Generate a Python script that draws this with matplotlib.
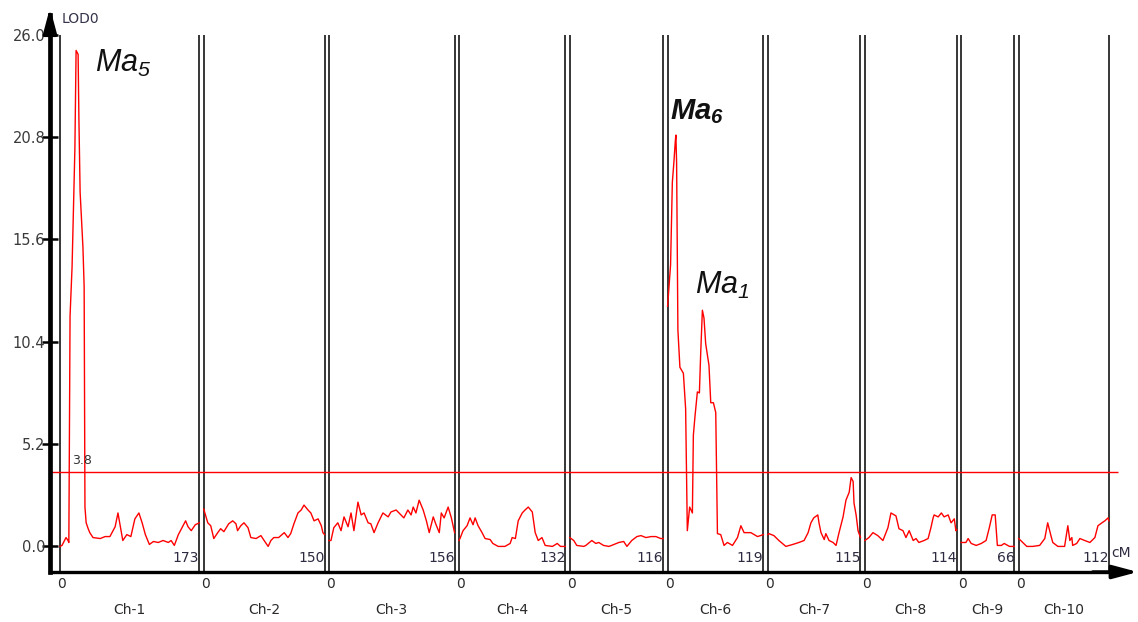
import matplotlib.pyplot as plt
import numpy as np

plt.rcParams['font.family'] = ['DejaVu Sans']
plt.rcParams['mathtext.fontset'] = 'custom'
plt.rcParams['mathtext.rm'] = 'Liberation Sans:italic'
plt.rcParams['mathtext.it'] = 'Liberation Sans:italic'
plt.rcParams['mathtext.bf'] = 'Liberation Sans:italic:bold'
plt.rcParams['mathtext.bfit'] = 'Liberation Sans:italic:bold'

chroms = ["Ch-1", "Ch-2", "Ch-3", "Ch-4", "Ch-5", "Ch-6", "Ch-7", "Ch-8", "Ch-9", "Ch-10"]
lengths = [173, 150, 156, 132, 116, 119, 115, 114, 66, 112]   # cM
threshold = 3.8
yticks = [0.0, 5.2, 10.4, 15.6, 20.8, 26.0]

# LOD profile along each chromosome: position (cM), LOD
pos1 = [0, 2.5, 7.5, 10, 11, 12.5, 15, 16, 18.5, 20, 22.5, 23.5, 25, 28.5, 30, 31, 32.5,
        35, 37, 41, 50, 56, 62, 68.5, 72, 75, 78, 83, 88, 93, 98, 102, 106, 111, 116,
        122, 128, 134.5, 138, 142, 147, 156, 159, 163, 168, 173]
lod1 = [0.0, 0.05, 0.45, 0.3, 0.2, 11.7, 14.2, 15.9, 20.2, 25.2, 25.0, 21.7, 18.0, 15.2, 13.2, 2.0, 1.2,
        0.9, 0.7, 0.45, 0.4, 0.5, 0.5, 1.0, 1.7, 1.0, 0.3, 0.6, 0.5, 1.4, 1.7, 1.2, 0.6, 0.1, 0.25,
        0.2, 0.3, 0.2, 0.3, 0.05, 0.6, 1.3, 1.0, 0.8, 1.1, 1.2]

pos2 = [0, 5, 8.7, 12.5, 17.4, 21, 25, 31, 36, 40, 42, 46, 50, 55, 58.5, 65, 71, 75, 80,
        83.4, 87, 93, 100, 104.6, 108, 112, 117, 121, 124.5, 129.5, 133, 137, 142, 146, 148, 150]
lod2 = [1.9, 1.2, 1.05, 0.4, 0.7, 0.9, 0.75, 1.15, 1.3, 1.15, 0.8, 1.05, 1.2, 0.95, 0.45, 0.4, 0.55, 0.3, 0.0,
        0.3, 0.45, 0.45, 0.7, 0.45, 0.65, 1.15, 1.7, 1.85, 2.1, 1.85, 1.7, 1.3, 1.4, 1.05, 0.7, 0.6]

pos3 = [0, 2.5, 6, 11, 15, 18.7, 23.7, 27.4, 31, 36, 40, 43.6, 48.6, 52, 56, 61, 67, 73.5,
        77, 83.4, 87, 93, 98, 102, 104.6, 108, 112, 117, 121, 124.5, 129.5, 133, 137, 139.5,
        143, 148, 152, 156]
lod3 = [0.3, 0.3, 0.95, 1.2, 0.8, 1.5, 1.0, 1.7, 0.8, 2.25, 1.6, 1.7, 1.2, 1.15, 0.7, 1.2, 1.7, 1.5,
        1.75, 1.85, 1.7, 1.45, 1.85, 1.6, 2.0, 1.7, 2.35, 1.85, 1.3, 0.7, 1.5, 1.1, 0.7, 1.7,
        1.45, 2.0, 1.45, 0.7]

pos4 = [0, 1.2, 5, 10, 13.7, 17.4, 20, 23.7, 28.6, 32.4, 38.6, 42, 48.6, 57, 63.5, 66, 70,
        73.5, 78.5, 82, 86, 91, 94.6, 98.4, 103, 107, 116, 122, 126, 132]
lod4 = [0.3, 0.4, 0.8, 1.05, 1.45, 1.1, 1.45, 1.05, 0.7, 0.4, 0.35, 0.15, 0.0, 0.0, 0.15, 0.45, 0.4,
        1.3, 1.7, 1.85, 2.0, 1.75, 0.7, 0.3, 0.45, 0.05, 0.0, 0.15, 0.0, 0.0]

pos5 = [0, 5, 8.7, 17.4, 20, 27.4, 32.4, 36, 42, 48.6, 52, 61, 67, 71, 77, 83.4, 88.4,
        94.6, 101, 107, 113, 116]
lod5 = [0.45, 0.3, 0.05, 0.0, 0.05, 0.3, 0.15, 0.2, 0.05, 0.0, 0.05, 0.2, 0.25, 0.0, 0.3, 0.5, 0.55,
        0.45, 0.5, 0.5, 0.4, 0.4]

pos6 = [0, 3.7, 5.9, 7.8, 9.6, 10.3, 11.2, 12.8, 15.3, 19.6, 22.4, 24.5, 27.4, 30.8, 32,
        34, 37, 39.5, 41.1, 43.2, 45.2, 47.3, 51.4, 53.6, 56.9, 59.8, 61.9, 66, 70.1, 74.3,
        80.6, 86.8, 91, 95, 103.4, 111.7, 119]
lod6 = [12.2, 14.3, 18.5, 19.5, 20.6, 20.9, 19.5, 11.0, 9.1, 8.8, 7.0, 0.8, 2.0, 1.7, 5.65,
        6.6, 7.85, 7.8, 9.8, 12.0, 11.6, 10.3, 9.2, 7.3, 7.3, 6.8, 0.65, 0.6, 0.05, 0.2,
        0.05, 0.45, 1.05, 0.7, 0.7, 0.5, 0.6]

pos7 = [0, 1.2, 7.5, 13.7, 22.4, 31, 38.6, 45, 50, 53.5, 57, 62, 63.5, 66, 70, 72, 76, 81,
        84.7, 88.4, 93.4, 97, 101, 103.4, 105.9, 107, 109.6, 112, 115]
lod7 = [0.6, 0.65, 0.55, 0.3, 0.0, 0.1, 0.2, 0.3, 0.7, 1.2, 1.45, 1.6, 1.2, 0.7, 0.35, 0.65, 0.3, 0.2,
        0.05, 0.7, 1.5, 2.35, 2.75, 3.5, 3.3, 2.2, 1.6, 0.8, 0.45]

pos8 = [0, 5, 10, 16, 22.4, 28.6, 32.4, 38.6, 42.3, 47.3, 51, 55, 60, 63.5, 67, 73.5, 78.5,
        82, 84.7, 86, 91, 95, 98.4, 103.4, 107, 111, 113, 114]
lod8 = [0.3, 0.45, 0.7, 0.55, 0.3, 0.95, 1.7, 1.55, 0.9, 0.8, 0.45, 0.8, 0.3, 0.4, 0.2, 0.3, 0.4,
        0.95, 1.45, 1.6, 1.5, 1.7, 1.5, 1.6, 1.2, 1.4, 0.8, 0.85]

pos9 = [0, 6, 8.7, 12.5, 18.7, 25, 31, 35, 38.6, 42.3, 45, 50, 53.5, 60, 66]
lod9 = [0.2, 0.2, 0.4, 0.15, 0.05, 0.15, 0.3, 0.95, 1.6, 1.6, 0.05, 0.05, 0.15, 0.0, 0.0]

pos10 = [0, 5, 10, 17.4, 26, 32.4, 36, 40, 42.3, 48.6, 57, 61, 63.5, 66, 67, 72, 76, 82,
         88.4, 94.6, 98.4, 103.4, 107, 111, 112]
lod10 = [0.4, 0.2, 0.0, 0.0, 0.05, 0.4, 1.2, 0.55, 0.2, 0.0, 0.0, 1.05, 0.3, 0.45, 0.05, 0.15, 0.4, 0.3,
         0.2, 0.45, 1.05, 1.2, 1.3, 1.45, 1.3]

profiles = [(pos1, lod1), (pos2, lod2), (pos3, lod3), (pos4, lod4), (pos5, lod5),
            (pos6, lod6), (pos7, lod7), (pos8, lod8), (pos9, lod9), (pos10, lod10)]

gap = 5.5
offsets = np.concatenate([[0], np.cumsum(np.array(lengths[:-1]) + gap)])
total = offsets[-1] + lengths[-1]

fig = plt.figure(figsize=(11.38, 6.22), dpi=100)
ax = fig.add_axes([50 / 1138, 50 / 622, 1075 / 1138, 557 / 622])
ax.set_xlim(-12.4, total + 20)
ax.set_ylim(-1.3, 27.0)

for s in ("top", "right"):
    ax.spines[s].set_visible(False)
ax.spines["left"].set_linewidth(3.4)
ax.spines["bottom"].set_linewidth(2.4)

ax.set_xticks([])
ax.set_yticks(yticks)
ax.yaxis.set_major_formatter("{x:.1f}")
ax.tick_params(axis="y", direction="inout", length=11, width=1.8, pad=-2,
               labelsize=10.5, labelcolor="#3a3a3a")

# axis arrows
arrow = dict(arrowstyle="-|>,head_length=0.75,head_width=0.2", color="black",
             lw=2.5, shrinkA=0, shrinkB=0, mutation_scale=20)
ax.annotate("", xy=(0, 1.013), xytext=(0, 0.97), xycoords="axes fraction",
            arrowprops=arrow, annotation_clip=False)
ax.annotate("", xy=(1.012, 0), xytext=(0.97, 0), xycoords="axes fraction",
            arrowprops=arrow, annotation_clip=False)

# chromosome borders and labels
for off, L, name in zip(offsets, lengths, chroms):
    ax.vlines([off, off + L], -1.3, 26.0, color="black", lw=1.1)
    ax.text(off + L, -0.6, str(L), ha="right", va="center", fontsize=10, color="#2e2a40")
    ax.text(off + 2, -1.9, "0", ha="center", va="center", fontsize=10,
            color="#2a2a2a", clip_on=False)
    ax.text(off + L / 2, -3.25, name, ha="center", va="center", fontsize=10,
            color="#2a2a2a", clip_on=False)
ax.text(total + 3.5, -0.35, "cM", ha="left", va="center", fontsize=10, color="#2e2a40")

# threshold
ax.hlines(threshold, -12.4, total + 2 * gap, color="#ff0000", lw=1.0)
ax.text(15, threshold + 0.55, f"{threshold}", ha="left", va="center", fontsize=9, color="#333333")

# LOD curve
for off, (p, v) in zip(offsets, profiles):
    ax.plot(off + np.array(p), v, color="#ff0000", lw=1.0)

ax.text(2, 26.8, "LOD0", ha="left", va="center", fontsize=10, color="#34344a", clip_on=False)

# QTL names
ax.text(43.5, 24.1, r"$\mathit{Ma}_{5}$", fontsize=22, color="#111111", va="baseline")
ax.text(offsets[5] + 3, 21.7, r"$\mathbf{Ma}_{\mathbf{6}}$", fontsize=21, color="#111111",
        va="baseline")
ax.text(offsets[5] + 34, 12.85, r"$\mathit{Ma}_{1}$", fontsize=22, color="#111111",
        va="baseline")

fig.savefig("out.png", dpi=100)
